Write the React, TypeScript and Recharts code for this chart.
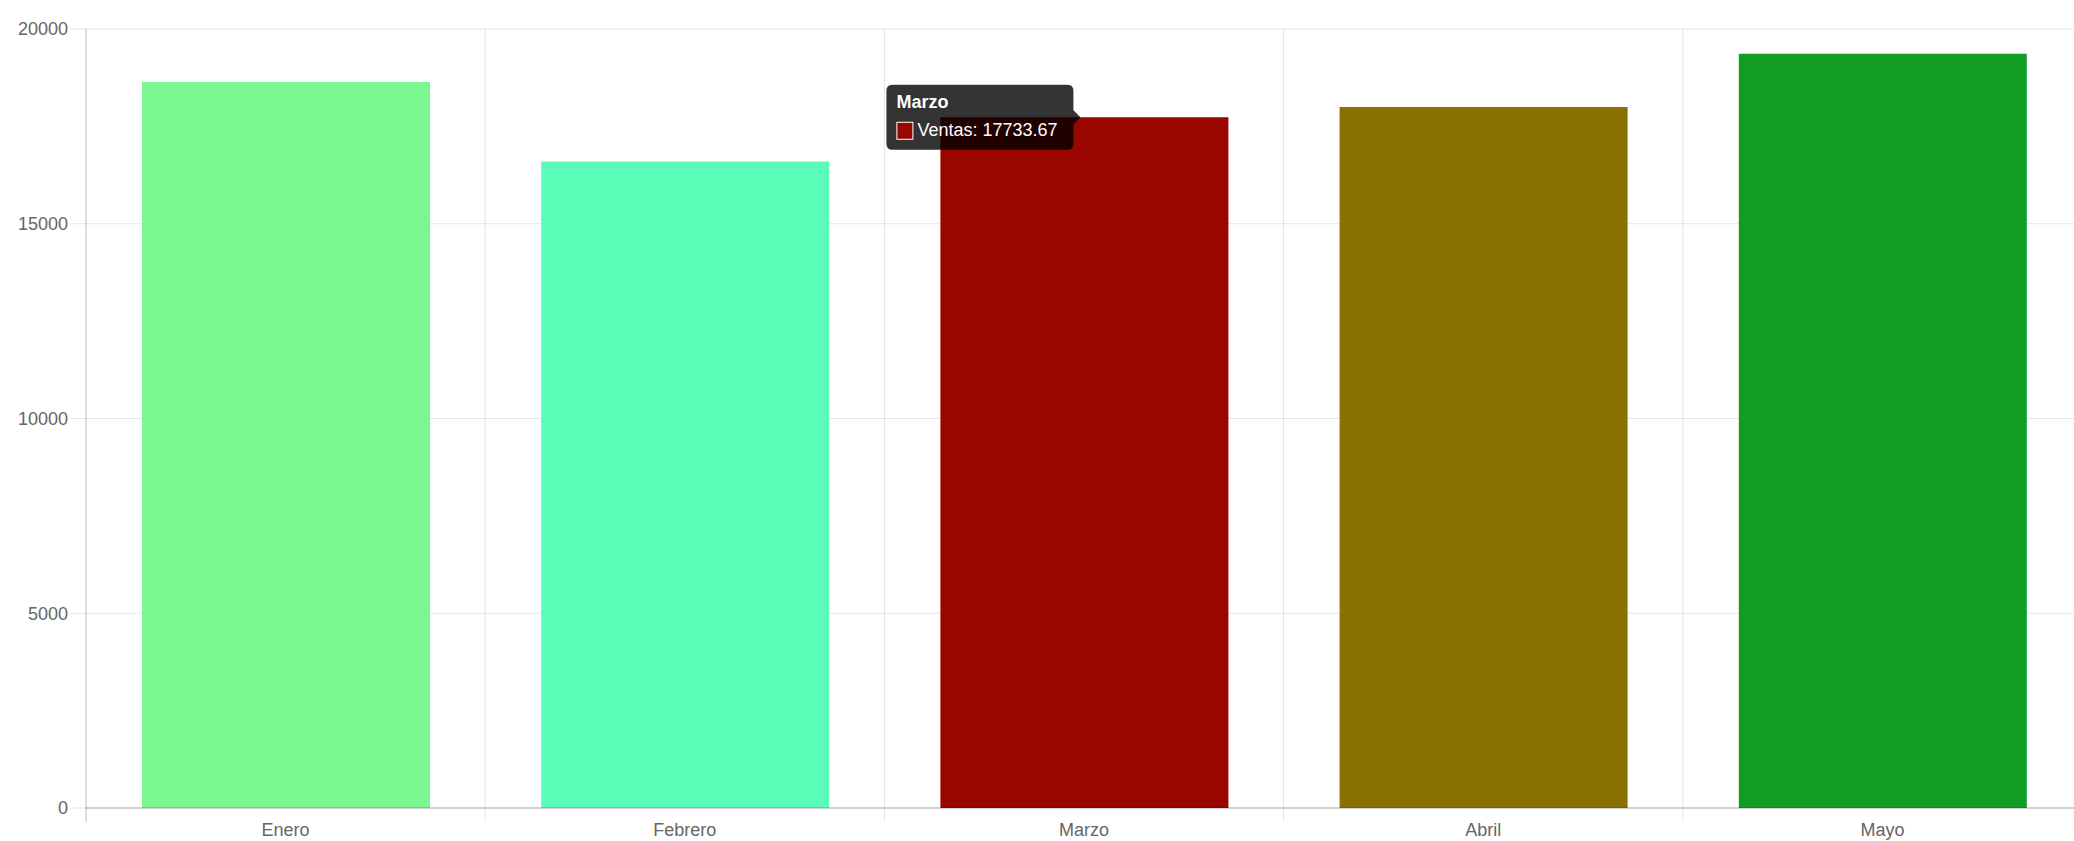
import React from "react";
import { Bar, BarChart, CartesianGrid, Cell, LabelList, XAxis, YAxis } from "recharts";

const meses = ["Enero", "Febrero", "Marzo", "Abril", "Mayo"];
const ventas = [18640, 16600, 17733.67, 18000, 19365];
const colores = ["#7af78f", "#59fdb8", "#990600", "#8a7000", "#119c23"];
const yTicks = [0, 5000, 10000, 15000, 20000];
const mesActivo = 2;

const data = meses.map((mes, i) => ({ mes, ventas: ventas[i] }));

const VIEW_W = 2074;
const W = 2082; // el lienzo original es un poco más ancho que la ventana
const H = 841;
const Y_W = 86;
const BAND = (W - Y_W) / meses.length;
const FONT = '"Liberation Sans", Arial, Helvetica, sans-serif';
const GRID = "rgba(0,0,0,0.1)";
const AXIS = "rgba(0,0,0,0.28)";

const XTick = (props: any) => {
	const { x, y, payload, index } = props;
	const half = BAND / 2;
	return (
		<g>
			<line x1={x - half} x2={x - half} y1={y} y2={y + 14} stroke={index === 0 ? AXIS : GRID} />
			{index === meses.length - 1 && (
				<line x1={x + half} x2={x + half} y1={y} y2={y + 14} stroke={GRID} />
			)}
			<text x={x} y={y + 28} textAnchor="middle" fill="#666" fontSize={18} fontFamily={FONT}>
				{payload.value}
			</text>
		</g>
	);
};

// tooltip estilo chart.js dibujado sobre la barra activa
const TooltipFijo = (props: any) => {
	const { x, y, width, index, value } = props;
	if (index !== mesActivo) return null;
	const tx = x + width / 2 - 4;
	const ty = y;
	const bw = 187;
	const bh = 65;
	const left = tx - 7 - bw;
	const top = ty - bh / 2;
	const r = 6;
	const right = left + bw;
	const bottom = top + bh;
	const d = `M${left + r},${top} H${right - r} Q${right},${top} ${right},${top + r}
		V${ty - 7} L${tx},${ty} L${right},${ty + 7}
		V${bottom - r} Q${right},${bottom} ${right - r},${bottom}
		H${left + r} Q${left},${bottom} ${left},${bottom - r}
		V${top + r} Q${left},${top} ${left + r},${top} Z`;
	return (
		<g fontFamily={FONT}>
			<path d={d} fill="rgba(0,0,0,0.8)" />
			<text x={left + 10} y={top + 23} fill="#fff" fontSize={18} fontWeight="bold">
				{meses[index]}
			</text>
			<rect x={left + 10.5} y={top + 37.5} width={16} height={17} fill={colores[index]} stroke="#fff" />
			<text x={left + 31} y={top + 51} fill="#fff" fontSize={18}>
				{`Ventas: ${value}`}
			</text>
		</g>
	);
};

export default function App() {
	return (
		<div
			style={{
				position: "absolute",
				left: 0,
				top: 0,
				width: VIEW_W,
				height: H,
				overflow: "hidden",
				background: "#fff",
			}}
		>
			<BarChart width={W} height={H} data={data} margin={{ top: 29, right: 0, bottom: 0, left: 0 }}>
				<CartesianGrid
					stroke={GRID}
					verticalCoordinatesGenerator={({ offset }: any) =>
						meses.slice(1).map((_, i) => offset.left + ((i + 1) * offset.width) / meses.length)
					}
				/>
				<XAxis
					dataKey="mes"
					height={33}
					tickLine={false}
					tickSize={0}
					tickMargin={0}
					axisLine={{ stroke: AXIS }}
					tick={<XTick />}
					interval={0}
				/>
				<YAxis
					width={Y_W}
					domain={[0, 20000]}
					ticks={yTicks}
					tickSize={16}
					tickMargin={2}
					tickLine={{ stroke: GRID }}
					axisLine={{ stroke: AXIS }}
					tick={{ fill: "#666", fontSize: 18, fontFamily: FONT }}
				/>
				<Bar dataKey="ventas" barSize={288} isAnimationActive={false}>
					{data.map((d, i) => (
						<Cell key={d.mes} fill={colores[i]} />
					))}
					<LabelList dataKey="ventas" content={<TooltipFijo />} />
				</Bar>
			</BarChart>
		</div>
	);
}
